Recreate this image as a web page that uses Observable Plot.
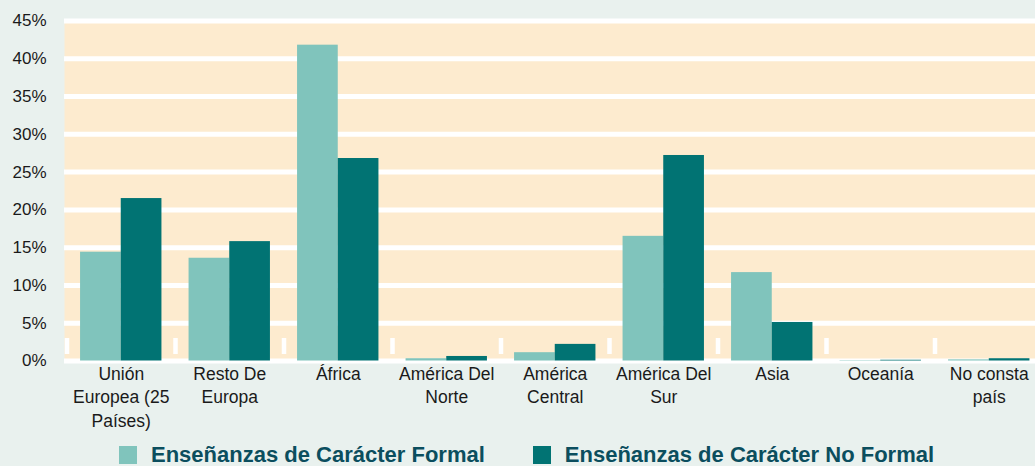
<!DOCTYPE html>
<html><head><meta charset="utf-8">
<script src="https://cdn.jsdelivr.net/npm/d3@7"></script>
<script src="https://cdn.jsdelivr.net/npm/@observablehq/plot@0.6"></script>
<style>
html,body{margin:0;padding:0;}
body{background:#E9F1EE;width:1035px;height:466px;overflow:hidden;position:relative;font-family:"Liberation Sans",Arial,sans-serif;}
#chart{position:absolute;left:0;top:0;width:1043px;}
#chart svg{max-width:none !important;}
#legend{position:absolute;left:119px;top:443px;display:flex;align-items:center;font-weight:bold;font-size:22px;line-height:24px;color:#0b4e5e;white-space:nowrap;}
.item{display:flex;align-items:center;margin-right:48px;}
.sw{width:18px;height:18px;display:inline-block;margin-right:14px;}
</style></head><body>
<div id="chart"></div>
<div id="legend"></div>
<script>
const categories = ["Unión Europea (25 Países)","Resto De Europa","África","América Del Norte","América Central","América Del Sur","Asia","Oceanía","No consta país"];
const tickLabels = ["Unión\nEuropea (25\nPaíses)","Resto De\nEuropa","África","América Del\nNorte","América\nCentral","América Del\nSur","Asia","Oceanía","No consta\npaís"];
const seriesNames = ["Enseñanzas de Carácter Formal","Enseñanzas de Carácter No Formal"];
const formal = [14.4, 13.6, 41.8, 0.3, 1.1, 16.5, 11.7, 0.05, 0.15];
const nonFormal = [21.5, 15.8, 26.8, 0.6, 2.2, 27.2, 5.1, 0.1, 0.3];
const yTicks = [0, 5, 10, 15, 20, 25, 30, 35, 40, 45];
const colors = ["#80C4BC", "#017373"];

const rows = categories.map((c, i) => ({category: c, formal: formal[i], nonFormal: nonFormal[i]}));
const labelOf = new Map(categories.map((c, i) => [c, tickLabels[i]]));

const W = 1043, H = 440;
const x0 = 66.5, x1 = 1043;
const step = (x1 - x0) / categories.length;
const bw = step * 0.75;
const half = bw / 2;

const chart = Plot.plot({
  width: W,
  height: H,
  marginTop: 20.5,
  marginBottom: H - 360.5,
  marginLeft: 64,
  marginRight: 0,
  style: {background: "transparent", fontFamily: "'Liberation Sans', Arial, sans-serif", color: "#1a1a1a", overflow: "visible", maxWidth: "none"},
  x: {type: "band", domain: categories, range: [x0, x1], paddingInner: 0.25, paddingOuter: 0.125, align: 0.5, round: false, label: null},
  y: {domain: [0, 45], label: null},
  marks: [
    Plot.frame({fill: "#FDEBCF", stroke: "none"}),
    Plot.ruleY(yTicks, {stroke: "white", strokeWidth: 5}),
    Plot.tickX(categories, {x: d => d, dx: -step / 2, stroke: "white", strokeWidth: 4.5, insetTop: 317.5, insetBottom: 6.5}),
    Plot.barY(rows, {x: "category", y: "formal", fill: colors[0], insetRight: half, insetLeft: 0}),
    Plot.barY(rows, {x: "category", y: "nonFormal", fill: colors[1], insetLeft: half, insetRight: 0}),
    Plot.axisY(yTicks, {tickSize: 0, tickPadding: 18, fontSize: 17, tickFormat: d => d + "%", label: null}),
    Plot.axisX({tickSize: 0, tickPadding: 2, fontSize: 17.5, lineHeight: 1.35, tickFormat: d => labelOf.get(d), label: null})
  ]
});
document.getElementById("chart").appendChild(chart);

const legend = document.getElementById("legend");
seriesNames.forEach((name, i) => {
  const item = document.createElement("div");
  item.className = "item";
  const sw = document.createElement("span");
  sw.className = "sw";
  sw.style.background = colors[i];
  const t = document.createElement("span");
  t.textContent = name;
  item.appendChild(sw);
  item.appendChild(t);
  legend.appendChild(item);
});
</script>
</body></html>
